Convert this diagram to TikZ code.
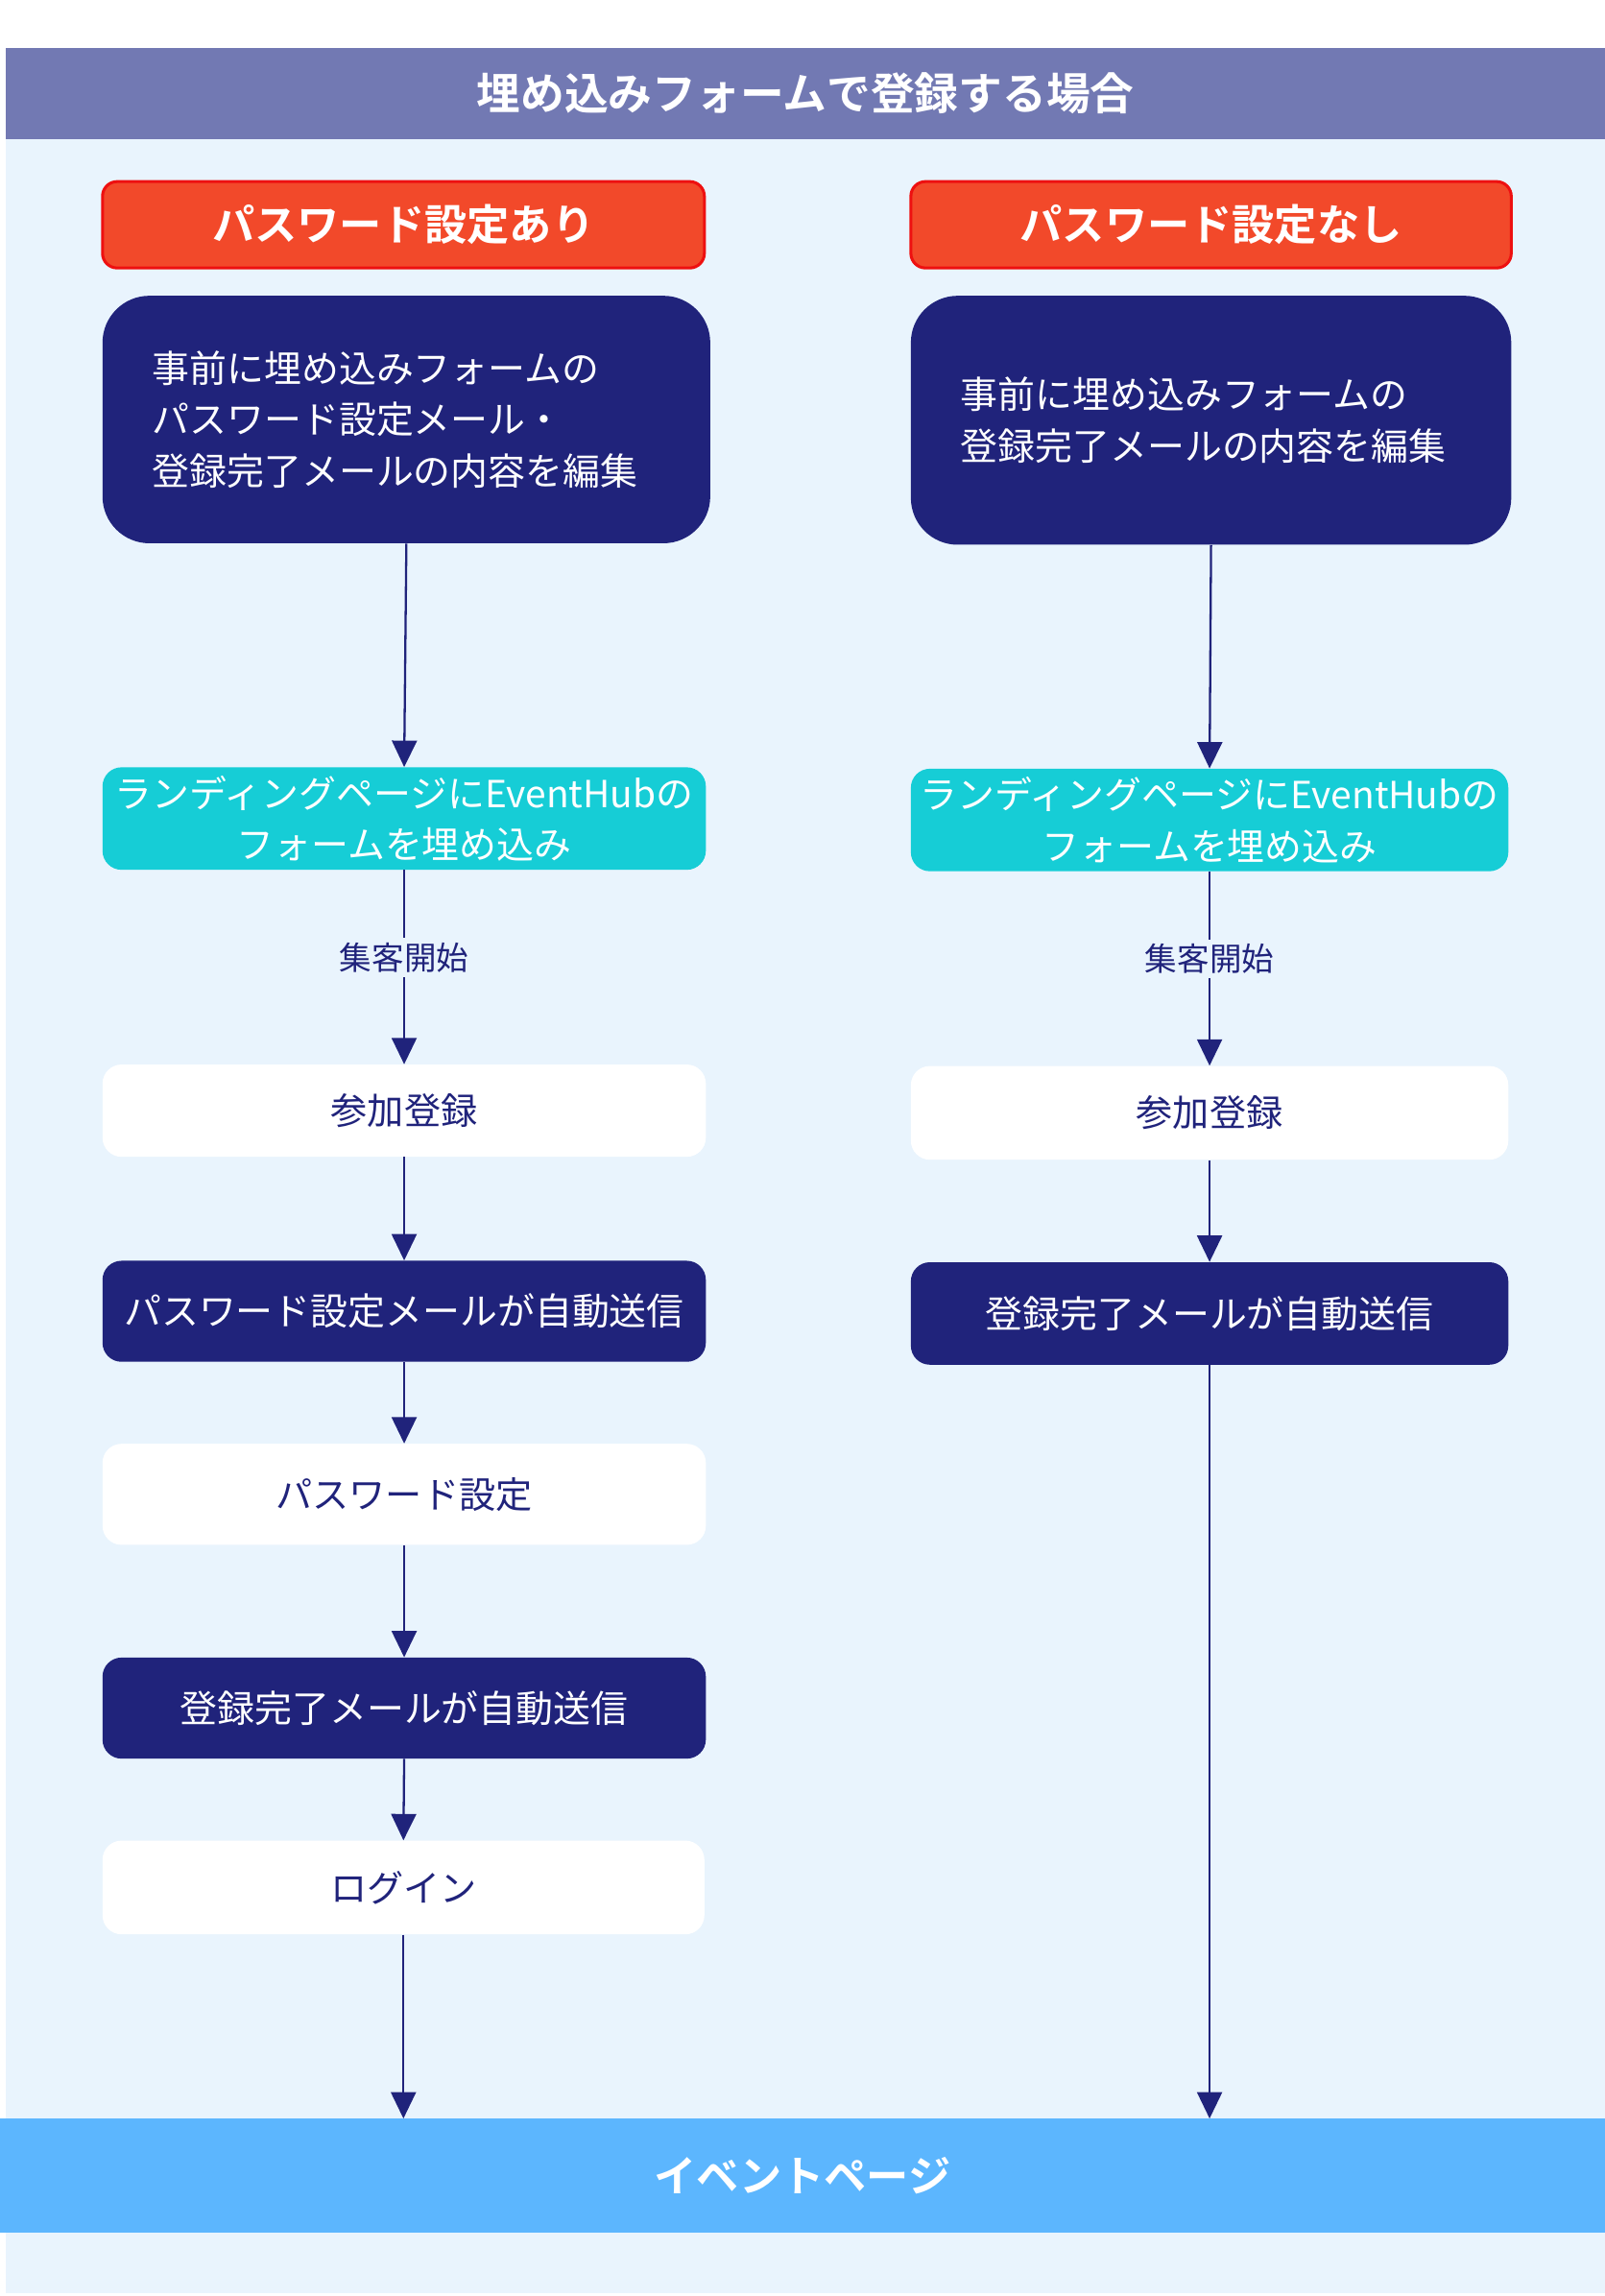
\documentclass[tikz,border=0pt]{standalone}
\usepackage{fontspec}
\setmainfont{Noto Sans CJK JP}[BoldFont={Noto Sans CJK JP Bold}]
\usetikzlibrary{arrows.meta}
\definecolor{bandc}{HTML}{7279B3}
\definecolor{bgc}{HTML}{E9F4FD}
\definecolor{redf}{HTML}{F2492A}
\definecolor{redd}{HTML}{EE1010}
\definecolor{navy}{HTML}{20237B}
\definecolor{cyanf}{HTML}{16CDD6}
\definecolor{evc}{HTML}{5CB6FE}
\tikzset{
  basebox/.style={rectangle, inner sep=0pt, align=center},
  redbox/.style={basebox, fill=redf, draw=redd, line width=2pt, rounded corners=10pt,
    minimum height=59pt, text=white, font=\bfseries\fontsize{29}{34}\selectfont},
  bigbox/.style={basebox, fill=navy, rounded corners=32pt, minimum height=169pt,
    inner xsep=34pt, align=left, text=white, font=\fontsize{25.5}{35}\selectfont},
  cyanbox/.style={basebox, fill=cyanf, rounded corners=13pt, minimum height=70pt,
    text=white, font=\fontsize{25.5}{35}\selectfont},
  whitebox/.style={basebox, fill=white, rounded corners=13pt, minimum height=64pt,
    text=navy, font=\fontsize{25}{30}\selectfont},
  darkbox/.style={basebox, fill=navy, rounded corners=13pt, minimum height=69pt,
    text=white, font=\fontsize{25.5}{30}\selectfont},
  arr/.style={draw=navy, line width=1.5pt, -{Triangle[length=18pt,width=17pt]}},
  lbl/.style={fill=bgc, text=navy, inner xsep=2pt, inner ysep=3pt, font=\fontsize{22}{26}\selectfont}
}
\begin{document}
\begin{tikzpicture}[x=1pt,y=-1pt]
\useasboundingbox (0,0) rectangle (1096,1568);
\fill[white] (0,0) rectangle (1096,1568);
\fill[bgc] (4,95) rectangle (1096,1566);
\node[basebox, fill=bandc, minimum width=1092pt, minimum height=62pt, text=white,
  font=\bfseries\fontsize{30}{36}\selectfont] (title) at (550,64) {埋め込みフォームで登録する場合};

% left column
\node[redbox, minimum width=411pt] (L0) at (275.5,153.5) {パスワード設定あり};
\node[bigbox, text width=347pt] (L1) at (277.5,286.5) {事前に埋め込みフォームの\\パスワード設定メール・\\登録完了メールの内容を編集};
\node[cyanbox, minimum width=412pt] (L2) at (276,559) {ランディングページにEventHubの\\フォームを埋め込み};
\node[whitebox, minimum width=412pt, minimum height=63pt] (L3) at (276,758.5) {参加登録};
\node[darkbox, minimum width=412pt] (L4) at (276,895.5) {パスワード設定メールが自動送信};
\node[whitebox, minimum width=412pt, minimum height=69pt] (L5) at (276,1020.5) {パスワード設定};
\node[darkbox, minimum width=412pt] (L6) at (276,1166.5) {登録完了メールが自動送信};
\node[whitebox, minimum width=411pt] (L7) at (275.5,1289) {ログイン};

% right column
\node[redbox, minimum width=410pt] (R0) at (827,153.5) {パスワード設定なし};
\node[bigbox, text width=342pt, minimum height=170pt] (R1) at (827,287) {事前に埋め込みフォームの\\登録完了メールの内容を編集};
\node[cyanbox, minimum width=408pt] (R2) at (826,560) {ランディングページにEventHubの\\フォームを埋め込み};
\node[whitebox, minimum width=408pt] (R3) at (826,760) {参加登録};
\node[darkbox, minimum width=408pt, minimum height=70pt] (R4) at (826,897) {登録完了メールが自動送信};

% event band
\node[basebox, fill=evc, minimum width=1096pt, minimum height=78pt, text=white,
  font=\bfseries\fontsize{29}{34}\selectfont] (ev) at (548,1486) {イベントページ};

% connectors left
\draw[arr] (L1.south) -- (L2.north);
\draw[arr] (L2.south) -- node[lbl, pos=0.45] {集客開始} (L3.north);
\draw[arr] (L3.south) -- (L4.north);
\draw[arr] (L4.south) -- (L5.north);
\draw[arr] (L5.south) -- (L6.north);
\draw[arr] (L6.south) -- (L7.north);
\draw[arr] (L7.south) -- (L7.south |- ev.north);

% connectors right
\draw[arr] (R1.south) -- (R2.north);
\draw[arr] (R2.south) -- node[lbl, pos=0.45] {集客開始} (R3.north);
\draw[arr] (R3.south) -- (R4.north);
\draw[arr] (R4.south) -- (R4.south |- ev.north);
\end{tikzpicture}
\end{document}
